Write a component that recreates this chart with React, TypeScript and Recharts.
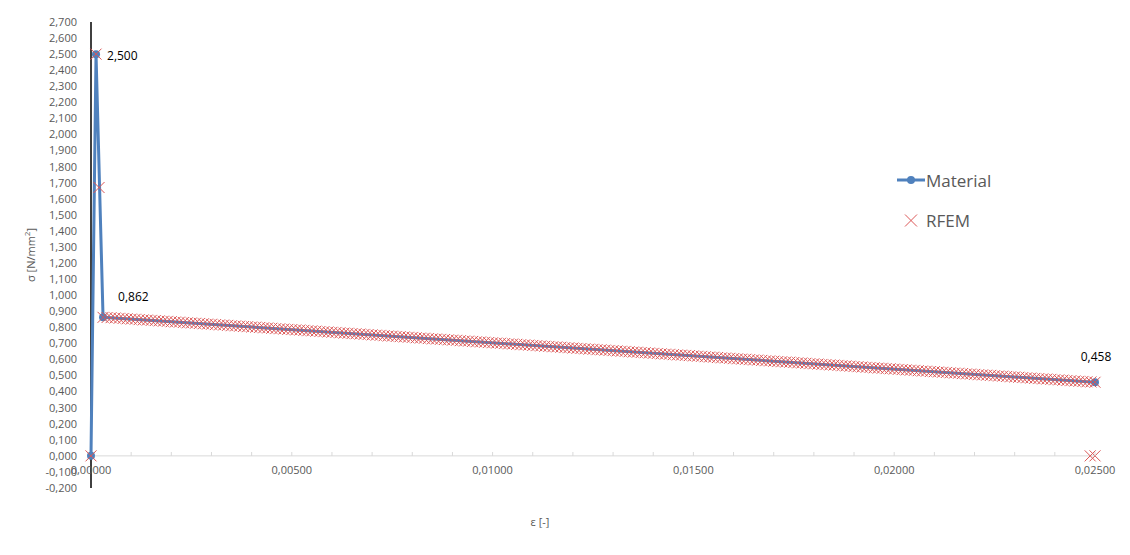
import { ScatterChart, Scatter, XAxis, YAxis, ReferenceLine, Legend, Label } from 'recharts'

const materialStrain = [0, 0.000125, 0.0003, 0.025]
const materialStress = [0, 2.5, 0.862, 0.458]

// isolated RFEM points
const rfemExtraStrain = [0, 0.000125, 0.0002, 0.0003, 0.02488, 0.025]
const rfemExtraStress = [0, 2.5, 1.67, 0.862, 0, 0]

// RFEM points along the softening branch (even steps)
const rfemStrain = [
  0.0004, 0.0006, 0.0008, 0.001, 0.0012, 0.0014, 0.0016, 0.0018, 0.002, 0.0022, 0.0024, 0.0026, 0.0028, 0.003,
  0.0032, 0.0034, 0.0036, 0.0038, 0.004, 0.0042, 0.0044, 0.0046, 0.0048, 0.005, 0.0052, 0.0054, 0.0056, 0.0058,
  0.006, 0.0062, 0.0064, 0.0066, 0.0068, 0.007, 0.0072, 0.0074, 0.0076, 0.0078, 0.008, 0.0082, 0.0084, 0.0086,
  0.0088, 0.009, 0.0092, 0.0094, 0.0096, 0.0098, 0.01, 0.0102, 0.0104, 0.0106, 0.0108, 0.011, 0.0112, 0.0114,
  0.0116, 0.0118, 0.012, 0.0122, 0.0124, 0.0126, 0.0128, 0.013, 0.0132, 0.0134, 0.0136, 0.0138, 0.014, 0.0142,
  0.0144, 0.0146, 0.0148, 0.015, 0.0152, 0.0154, 0.0156, 0.0158, 0.016, 0.0162, 0.0164, 0.0166, 0.0168, 0.017,
  0.0172, 0.0174, 0.0176, 0.0178, 0.018, 0.0182, 0.0184, 0.0186, 0.0188, 0.019, 0.0192, 0.0194, 0.0196, 0.0198,
  0.02, 0.0202, 0.0204, 0.0206, 0.0208, 0.021, 0.0212, 0.0214, 0.0216, 0.0218, 0.022, 0.0222, 0.0224, 0.0226,
  0.0228, 0.023, 0.0232, 0.0234, 0.0236, 0.0238, 0.024, 0.0242, 0.0244, 0.0246, 0.0248, 0.025,
]
const rfemStress = [
  0.861, 0.858, 0.855, 0.851, 0.848, 0.845, 0.842, 0.838, 0.835, 0.832, 0.828, 0.825, 0.822, 0.819,
  0.815, 0.812, 0.809, 0.805, 0.802, 0.799, 0.796, 0.792, 0.789, 0.786, 0.783, 0.779, 0.776, 0.773,
  0.769, 0.766, 0.763, 0.76, 0.756, 0.753, 0.75, 0.746, 0.743, 0.74, 0.737, 0.733, 0.73, 0.727,
  0.724, 0.72, 0.717, 0.714, 0.71, 0.707, 0.704, 0.701, 0.697, 0.694, 0.691, 0.687, 0.684, 0.681,
  0.678, 0.674, 0.671, 0.668, 0.664, 0.661, 0.658, 0.655, 0.651, 0.648, 0.645, 0.642, 0.638, 0.635,
  0.632, 0.628, 0.625, 0.622, 0.619, 0.615, 0.612, 0.609, 0.605, 0.602, 0.599, 0.596, 0.592, 0.589,
  0.586, 0.583, 0.579, 0.576, 0.573, 0.569, 0.566, 0.563, 0.56, 0.556, 0.553, 0.55, 0.546, 0.543,
  0.54, 0.537, 0.533, 0.53, 0.527, 0.524, 0.52, 0.517, 0.514, 0.51, 0.507, 0.504, 0.501, 0.497,
  0.494, 0.491, 0.487, 0.484, 0.481, 0.478, 0.474, 0.471, 0.468, 0.464, 0.461, 0.458,
]

// RFEM points along the softening branch (odd steps)
const rfemStrainOdd = [
  0.0005, 0.0007, 0.0009, 0.0011, 0.0013, 0.0015, 0.0017, 0.0019, 0.0021, 0.0023, 0.0025, 0.0027, 0.0029,
  0.0031, 0.0033, 0.0035, 0.0037, 0.0039, 0.0041, 0.0043, 0.0045, 0.0047, 0.0049, 0.0051, 0.0053, 0.0055,
  0.0057, 0.0059, 0.0061, 0.0063, 0.0065, 0.0067, 0.0069, 0.0071, 0.0073, 0.0075, 0.0077, 0.0079, 0.0081,
  0.0083, 0.0085, 0.0087, 0.0089, 0.0091, 0.0093, 0.0095, 0.0097, 0.0099, 0.0101, 0.0103, 0.0105, 0.0107,
  0.0109, 0.0111, 0.0113, 0.0115, 0.0117, 0.0119, 0.0121, 0.0123, 0.0125, 0.0127, 0.0129, 0.0131, 0.0133,
  0.0135, 0.0137, 0.0139, 0.0141, 0.0143, 0.0145, 0.0147, 0.0149, 0.0151, 0.0153, 0.0155, 0.0157, 0.0159,
  0.0161, 0.0163, 0.0165, 0.0167, 0.0169, 0.0171, 0.0173, 0.0175, 0.0177, 0.0179, 0.0181, 0.0183, 0.0185,
  0.0187, 0.0189, 0.0191, 0.0193, 0.0195, 0.0197, 0.0199, 0.0201, 0.0203, 0.0205, 0.0207, 0.0209, 0.0211,
  0.0213, 0.0215, 0.0217, 0.0219, 0.0221, 0.0223, 0.0225, 0.0227, 0.0229, 0.0231, 0.0233, 0.0235, 0.0237,
  0.0239, 0.0241, 0.0243, 0.0245, 0.0247, 0.0249,
]
const rfemStressOdd = [
  0.86, 0.856, 0.853, 0.85, 0.846, 0.843, 0.84, 0.837, 0.833, 0.83, 0.827, 0.824, 0.82,
  0.817, 0.814, 0.81, 0.807, 0.804, 0.801, 0.797, 0.794, 0.791, 0.787, 0.784, 0.781, 0.778,
  0.774, 0.771, 0.768, 0.764, 0.761, 0.758, 0.755, 0.751, 0.748, 0.745, 0.742, 0.738, 0.735,
  0.732, 0.728, 0.725, 0.722, 0.719, 0.715, 0.712, 0.709, 0.705, 0.702, 0.699, 0.696, 0.692,
  0.689, 0.686, 0.682, 0.679, 0.676, 0.673, 0.669, 0.666, 0.663, 0.66, 0.656, 0.653, 0.65,
  0.646, 0.643, 0.64, 0.637, 0.633, 0.63, 0.627, 0.624, 0.62, 0.617, 0.614, 0.61, 0.607,
  0.604, 0.601, 0.597, 0.594, 0.591, 0.587, 0.584, 0.581, 0.578, 0.574, 0.571, 0.568, 0.565,
  0.561, 0.558, 0.555, 0.551, 0.548, 0.545, 0.542, 0.538, 0.535, 0.532, 0.528, 0.525, 0.522,
  0.519, 0.515, 0.512, 0.509, 0.505, 0.502, 0.499, 0.496, 0.492, 0.489, 0.486, 0.482, 0.479,
  0.476, 0.473, 0.469, 0.466, 0.463, 0.46,
]

const yTicks = [
  -0.2, -0.1, 0, 0.1, 0.2, 0.3, 0.4, 0.5, 0.6, 0.7, 0.8, 0.9, 1, 1.1, 1.2, 1.3, 1.4, 1.5, 1.6, 1.7, 1.8, 1.9,
  2, 2.1, 2.2, 2.3, 2.4, 2.5, 2.6, 2.7,
]
const xTicks = [
  0, 0.001, 0.002, 0.003, 0.004, 0.005, 0.006, 0.007, 0.008, 0.009, 0.01, 0.011, 0.012, 0.013, 0.014, 0.015,
  0.016, 0.017, 0.018, 0.019, 0.02, 0.021, 0.022, 0.023, 0.024, 0.025,
]
const xLabelTicks = [0, 0.005, 0.01, 0.015, 0.02, 0.025]

const BLUE = '#4F81BD'
const RED = '#DB5656'
const GREY = '#595959'
const FONT = '"Open Sans", Arial, sans-serif'

// px from the tick y Recharts hands us up to the y = 0 line
const ZERO_SHIFT = 40
// label offsets for the labelled material points, by index
const labelOffsets: Record<number, { dx: number; dy: number; anchor: string }> = {
  1: { dx: 11, dy: 1, anchor: 'start' },
  2: { dx: 15, dy: -21, anchor: 'start' },
  3: { dx: 1, dy: -26, anchor: 'middle' },
}

const materialData = materialStrain.map((x, i) => ({ x, y: materialStress[i] }))
const rfemData = [
  ...rfemExtraStrain.map((x, i) => ({ x, y: rfemExtraStress[i] })),
  ...rfemStrain.map((x, i) => ({ x, y: rfemStress[i] })),
  ...rfemStrainOdd.map((x, i) => ({ x, y: rfemStressOdd[i] })),
]

const fmt = (v: number, d: number) => v.toFixed(d).replace('.', ',')

function MaterialDot(props: any) {
  const { cx, cy, index, payload } = props
  const off = labelOffsets[index]
  return (
    <g>
      <circle cx={cx} cy={cy} r={4} fill={BLUE} />
      {off && (
        <text
          x={cx + off.dx}
          y={cy + off.dy}
          textAnchor={off.anchor}
          dominantBaseline="central"
          fontSize={12}
          fontFamily={FONT}
          fill="#000"
        >
          {fmt(payload.y, 3)}
        </text>
      )}
    </g>
  )
}

function Cross(props: any) {
  const { cx, cy } = props
  const s = 5.5
  return (
    <path
      d={`M${cx - s},${cy - s}L${cx + s},${cy + s}M${cx + s},${cy - s}L${cx - s},${cy + s}`}
      stroke={RED}
      strokeWidth={1}
      fill="none"
    />
  )
}

function XTick(props: any) {
  const { x, y, payload } = props
  const v = payload.value as number
  const y0 = y - ZERO_SHIFT
  const major = xLabelTicks.some((t) => Math.abs(t - v) < 1e-9)
  return (
    <g>
      {v > 0 && <line x1={x} x2={x} y1={y0} y2={y0 - 4} stroke="#d9d9d9" />}
      {major && (
        <text x={x} y={y0 + 13} textAnchor="middle" dominantBaseline="central" fontSize={11} fontFamily={FONT} fill={GREY}>
          {fmt(v, 5)}
        </text>
      )}
    </g>
  )
}

function YTitle(props: any) {
  const { viewBox } = props
  const cx = viewBox.x - 1
  const cy = viewBox.y + viewBox.height / 2
  return (
    <text
      x={cx}
      y={cy}
      transform={`rotate(-90 ${cx} ${cy})`}
      textAnchor="middle"
      dominantBaseline="central"
      fontSize={11}
      fontFamily={FONT}
      fill={GREY}
    >
      σ [N/mm<tspan dy={-4} fontSize={8}>2</tspan>
      <tspan dy={4}>]</tspan>
    </text>
  )
}

function XTitle(props: any) {
  const { viewBox } = props
  return (
    <text
      x={viewBox.x + viewBox.width / 2 - 53}
      y={viewBox.y + 33}
      textAnchor="middle"
      dominantBaseline="central"
      fontSize={11}
      fontFamily={FONT}
      fill={GREY}
    >
      ε [-]
    </text>
  )
}

function LegendContent() {
  return (
    <div style={{ fontFamily: FONT, fontSize: 17, color: GREY }}>
      <div style={{ display: 'flex', alignItems: 'center', height: 24 }}>
        <svg width={30} height={12}>
          <line x1={1} x2={29} y1={6} y2={6} stroke={BLUE} strokeWidth={3} />
          <circle cx={15} cy={6} r={4} fill={BLUE} />
        </svg>
        <span>Material</span>
      </div>
      <div style={{ display: 'flex', alignItems: 'center', height: 24, marginTop: 16 }}>
        <svg width={30} height={14}>
          <path d="M9,1.5L21,13.5M21,1.5L9,13.5" stroke={RED} strokeWidth={1} fill="none" />
        </svg>
        <span>RFEM</span>
      </div>
    </div>
  )
}

export default function App() {
  return (
    <div style={{ position: 'absolute', left: 0, top: 0, width: 1130, height: 555, background: '#fff' }}>
      <ScatterChart width={1130} height={555} margin={{ top: 22, right: 35, bottom: 27, left: 31 }}>
        <XAxis
          type="number"
          dataKey="x"
          domain={[0, 0.025]}
          ticks={xTicks}
          interval={0}
          axisLine={false}
          tickLine={false}
          height={40}
          tick={<XTick />}
        >
          <Label content={<XTitle />} />
        </XAxis>
        <YAxis
          type="number"
          dataKey="y"
          domain={[-0.2, 2.7]}
          ticks={yTicks}
          interval={0}
          width={60}
          axisLine={{ stroke: '#000', strokeWidth: 1.5 }}
          tickLine={false}
          tickMargin={8}
          tick={{ fontSize: 11, fontFamily: FONT, fill: GREY }}
          tickFormatter={(v: number) => fmt(v, 3)}
        >
          <Label content={<YTitle />} />
        </YAxis>
        <ReferenceLine y={0} stroke="#d9d9d9" />
        <Scatter
          name="Material"
          data={materialData}
          fill={BLUE}
          line={{ stroke: BLUE, strokeWidth: 3 }}
          lineType="joint"
          shape={<MaterialDot />}
          isAnimationActive={false}
        />
        <Scatter name="RFEM" data={rfemData} fill={RED} shape={<Cross />} isAnimationActive={false} />
        <Legend
          layout="vertical"
          align="center"
          verticalAlign="middle"
          content={<LegendContent />}
          wrapperStyle={{ left: 896, top: 168, width: 130 }}
        />
      </ScatterChart>
    </div>
  )
}
